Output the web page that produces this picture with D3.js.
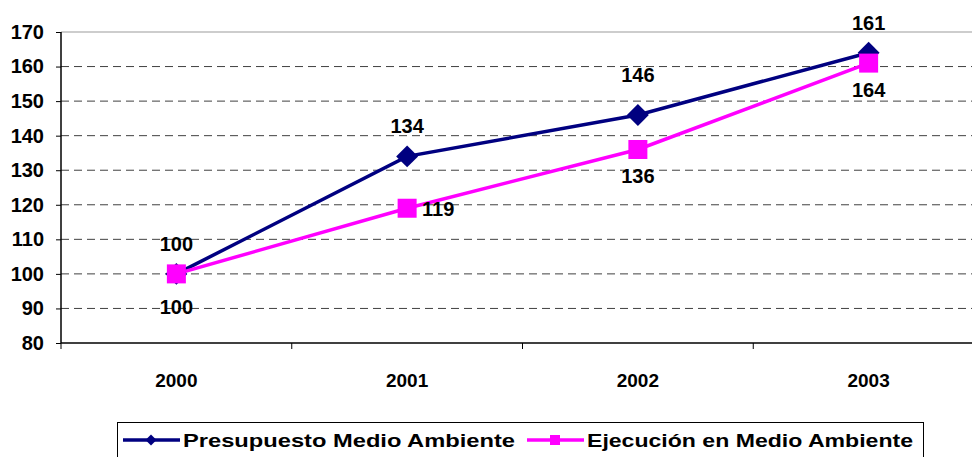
<!DOCTYPE html>
<html>
<head>
<meta charset="utf-8">
<script src="https://cdn.jsdelivr.net/npm/d3@7"></script>
<style>
  body { margin: 0; background: #fff; }
  text { font-family: "Liberation Sans", Arial, sans-serif; font-weight: bold; fill: #000; }
</style>
</head>
<body>
<div id="chart"></div>
<script>
/* DATA */
const years = ["2000", "2001", "2002", "2003"];
const presupuesto = [100, 134, 146, 164];
const ejecucion = [100, 119, 136, 161];
// labels as they appear in the original picture
const presupuestoLabels = ["100", "134", "146", "161"];
const ejecucionLabels = ["100", "119", "136", "164"];
const presupuestoPlace = ["above", "above", "high", "above"];
const ejecucionPlace = ["low", "right", "below", "below"];
const yTicks = [80, 90, 100, 110, 120, 130, 140, 150, 160, 170];
const seriesNames = ["Presupuesto Medio Ambiente", "Ejecución en Medio Ambiente"];

/* CONSTANTS */
const width = 972;
const height = 457;
const plotLeft = 61, plotRight = 984, plotTop = 32, plotBottom = 343;
const navy = "#000080";
const pink = "#ff00ff";

const svg = d3.select("#chart")
    .append("svg")
    .attr("width", width)
    .attr("height", height);

/* SCALES */
const xScale = d3.scaleBand()
    .domain(years)
    .range([plotLeft, plotRight])
    .padding(0);

const yScale = d3.scaleLinear()
    .domain([80, 170])
    .range([plotBottom, plotTop]);

const cx = d => xScale(d) + xScale.bandwidth() / 2;

// GRID
svg.selectAll(".grid")
    .data(yTicks.filter(t => t > 80 && t < 170))
    .join("line")
    .attr("class", "grid")
    .attr("x1", plotLeft).attr("x2", plotRight)
    .attr("y1", d => yScale(d)).attr("y2", d => yScale(d))
    .attr("stroke", "#404040")
    .attr("stroke-width", 1)
    .attr("stroke-dasharray", "8,5");

// top border of plot area
svg.append("line")
    .attr("x1", plotLeft).attr("x2", plotRight)
    .attr("y1", yScale(170)).attr("y2", yScale(170))
    .attr("stroke", "#bdbdbd")
    .attr("stroke-width", 1.5);

// AXES
const yAxis = d3.axisLeft(yScale).tickValues(yTicks).tickSize(5).tickFormat(d3.format("d"));
const yG = svg.append("g")
    .attr("transform", "translate(" + plotLeft + ",0)")
    .call(yAxis);
yG.select(".domain").attr("stroke", "#000").attr("stroke-width", 1.5).attr("d", "M0," + plotBottom + "V" + plotTop);
yG.selectAll(".tick line").attr("stroke", "#000");
yG.selectAll(".tick text")
    .attr("x", -17)
    .style("font-size", "20px")
    .style("font-family", "Liberation Sans, Arial, sans-serif")
    .style("font-weight", "bold");

const xAxis = d3.axisBottom(xScale).tickSize(0).tickPadding(0);
const xG = svg.append("g")
    .attr("transform", "translate(0," + plotBottom + ")")
    .call(xAxis);
xG.select(".domain").attr("stroke", "#000").attr("stroke-width", 1.5).attr("d", "M" + plotLeft + ",0H" + plotRight);
xG.selectAll(".tick text")
    .attr("y", 44)
    .attr("dy", 0)
    .style("font-size", "19px")
    .style("font-family", "Liberation Sans, Arial, sans-serif")
    .style("font-weight", "bold");

// category boundary ticks
svg.selectAll(".xtick")
    .data(years)
    .join("line")
    .attr("class", "xtick")
    .attr("x1", d => xScale(d)).attr("x2", d => xScale(d))
    .attr("y1", plotBottom).attr("y2", plotBottom + 6)
    .attr("stroke", "#000");

// LINES
const line = d3.line()
    .x((d, i) => cx(years[i]))
    .y(d => yScale(d));

svg.append("path")
    .datum(presupuesto)
    .attr("d", line)
    .attr("fill", "none")
    .attr("stroke", navy)
    .attr("stroke-width", 3.5);

svg.append("path")
    .datum(ejecucion)
    .attr("d", line)
    .attr("fill", "none")
    .attr("stroke", pink)
    .attr("stroke-width", 3.5);

// MARKERS
const diamond = d3.symbol().type(d3.symbolSquare).size(240);
svg.selectAll(".dia")
    .data(presupuesto)
    .join("path")
    .attr("class", "dia")
    .attr("d", diamond)
    .attr("transform", (d, i) => "translate(" + cx(years[i]) + "," + yScale(d) + ") rotate(45)")
    .attr("fill", navy);

svg.selectAll(".sq")
    .data(ejecucion)
    .join("rect")
    .attr("class", "sq")
    .attr("x", (d, i) => cx(years[i]) - 9.5)
    .attr("y", d => yScale(d) - 9.5)
    .attr("width", 19)
    .attr("height", 19)
    .attr("fill", pink);

// DATA LABELS
function labelPos(place, i, v) {
    const x = cx(years[i]), y = yScale(v);
    if (place === "above") return [x, y - 23];
    if (place === "high") return [x, y - 33];
    if (place === "below") return [x, y + 34];
    if (place === "low") return [x, y + 40];
    return [x + 31, y + 8];
}

svg.selectAll(".lab1")
    .data(presupuesto)
    .join("text")
    .attr("class", "lab1")
    .attr("x", (d, i) => labelPos(presupuestoPlace[i], i, d)[0])
    .attr("y", (d, i) => labelPos(presupuestoPlace[i], i, d)[1])
    .attr("text-anchor", "middle")
    .style("font-size", "20px")
    .text((d, i) => presupuestoLabels[i]);

svg.selectAll(".lab2")
    .data(ejecucion)
    .join("text")
    .attr("class", "lab2")
    .attr("x", (d, i) => labelPos(ejecucionPlace[i], i, d)[0])
    .attr("y", (d, i) => labelPos(ejecucionPlace[i], i, d)[1])
    .attr("text-anchor", "middle")
    .style("font-size", "20px")
    .text((d, i) => ejecucionLabels[i]);

// LEGEND
const legend = svg.append("g");
legend.append("rect")
    .attr("x", 117.5).attr("y", 422.5)
    .attr("width", 806).attr("height", 45)
    .attr("fill", "#fff")
    .attr("stroke", "#000")
    .attr("stroke-width", 1);

const legendItems = [
    { name: seriesNames[0], color: navy, x0: 123, shape: "diamond" },
    { name: seriesNames[1], color: pink, x0: 527, shape: "square" }
];
const ly = 440;
legendItems.forEach(it => {
    legend.append("line")
        .attr("x1", it.x0).attr("x2", it.x0 + 57)
        .attr("y1", ly).attr("y2", ly)
        .attr("stroke", it.color)
        .attr("stroke-width", 3.5);
    if (it.shape === "diamond") {
        legend.append("path")
            .attr("d", d3.symbol().type(d3.symbolSquare).size(60))
            .attr("transform", "translate(" + (it.x0 + 28) + "," + ly + ") rotate(45)")
            .attr("fill", it.color);
    } else {
        legend.append("rect")
            .attr("x", it.x0 + 23).attr("y", ly - 5)
            .attr("width", 10).attr("height", 10)
            .attr("fill", it.color);
    }
    legend.append("text")
        .attr("x", it.x0 + 60)
        .attr("y", ly + 7)
        .style("font-size", "19px")
        .attr("textLength", it.shape === "diamond" ? 332 : 326)
        .attr("lengthAdjust", "spacingAndGlyphs")
        .text(it.name);
});
</script>
</body>
</html>
